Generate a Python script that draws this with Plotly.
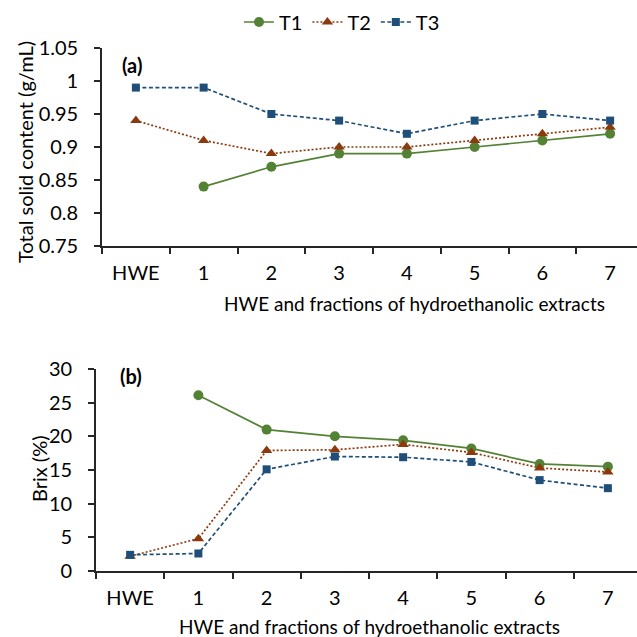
import plotly.graph_objects as go

categories = ["HWE", "1", "2", "3", "4", "5", "6", "7"]

tsc_t1 = [None, 0.84, 0.87, 0.89, 0.89, 0.90, 0.91, 0.92]
tsc_t2 = [0.94, 0.91, 0.89, 0.90, 0.90, 0.91, 0.92, 0.93]
tsc_t3 = [0.99, 0.99, 0.95, 0.94, 0.92, 0.94, 0.95, 0.94]

brix_t1 = [None, 26.1, 21.0, 20.0, 19.4, 18.2, 15.9, 15.5]
brix_t2 = [2.2, 4.8, 17.9, 18.0, 18.8, 17.6, 15.3, 14.7]
brix_t3 = [2.4, 2.6, 15.1, 17.0, 16.9, 16.2, 13.5, 12.3]

series_names = ["T1", "T2", "T3"]
tsc_ticks = [0.75, 0.8, 0.85, 0.9, 0.95, 1.0, 1.05]
tsc_ticktext = ["0.75", "0.8", "0.85", "0.9", "0.95", "1", "1.05"]
brix_ticks = [0, 5, 10, 15, 20, 25, 30]

W = H = 637
FONT = "Lato"
FS = 19
AX = "#262626"

colors = ["#548235", "#8B3A0E", "#1F4E79"]
dashes = ["solid", "2px,2px", "4px,2.5px"]
symbols = ["circle", "triangle-up", "square"]
msizes = [10, 10, 8]

fig = go.Figure()

for i, ys in enumerate([tsc_t1, tsc_t2, tsc_t3]):
    fig.add_trace(go.Scatter(
        x=categories, y=ys, name=series_names[i], mode="lines+markers",
        line=dict(color=colors[i], dash=dashes[i], width=1.7),
        marker=dict(symbol=symbols[i], size=msizes[i], color=colors[i]),
        xaxis="x", yaxis="y", showlegend=True, connectgaps=False))

for i, ys in enumerate([brix_t1, brix_t2, brix_t3]):
    fig.add_trace(go.Scatter(
        x=categories, y=ys, name=series_names[i], mode="lines+markers",
        line=dict(color=colors[i], dash=dashes[i], width=1.7),
        marker=dict(symbol=symbols[i], size=msizes[i], color=colors[i]),
        xaxis="x2", yaxis="y2", showlegend=False, connectgaps=False))

def px_x(p):
    return p / W

def px_y(p):
    return 1 - p / H

common_x = dict(type="category", categoryorder="array", categoryarray=categories,
                showline=True, linecolor=AX, linewidth=1.6, ticks="outside",
                tickson="boundaries", ticklen=6, tickcolor=AX, tickwidth=1.6,
                showgrid=False, zeroline=False, automargin=False,
                tickfont=dict(family=FONT, size=FS + 1, color="#000"),
                ticklabelstandoff=8)
common_y = dict(showline=True, linecolor=AX, linewidth=1.6, ticks="outside",
                ticklen=6, tickcolor=AX, tickwidth=1.6, showgrid=False,
                zeroline=False, automargin=False,
                tickfont=dict(family=FONT, size=FS + 1, color="#000"),
                ticklabelstandoff=12)

fig.update_layout(
    width=W, height=H, margin=dict(l=0, r=0, t=0, b=0),
    paper_bgcolor="white", plot_bgcolor="white",
    font=dict(family=FONT, size=FS, color="#000"),
    xaxis=dict(common_x, domain=[px_x(102), 1], anchor="y",
               range=[-0.5, 7.5 - 7 / 67.75]),
    yaxis=dict(common_y, domain=[px_y(246), px_y(48)], anchor="x",
               range=[0.75, 1.05], tickvals=tsc_ticks, ticktext=tsc_ticktext),
    xaxis2=dict(common_x, domain=[px_x(96), 1], anchor="y2",
                range=[-0.5, 7.5 - 5 / 68.25]),
    yaxis2=dict(common_y, domain=[px_y(571), px_y(369)], anchor="x2",
                range=[0, 30], tickvals=brix_ticks),
    legend=dict(orientation="h", x=px_x(342), y=px_y(22), xanchor="center",
                yanchor="middle", font=dict(family=FONT, size=FS + 1),
                itemwidth=30, bgcolor="rgba(0,0,0,0)"),
    annotations=[
        dict(text="<b>(a)</b>", x=px_x(120), y=px_y(65), xref="paper", yref="paper",
             xanchor="left", yanchor="middle", showarrow=False,
             font=dict(family=FONT, size=FS + 1)),
        dict(text="<b>(b)</b>", x=px_x(118), y=px_y(376), xref="paper", yref="paper",
             xanchor="left", yanchor="middle", showarrow=False,
             font=dict(family=FONT, size=FS + 1)),
        dict(text="HWE and fractions of hydroethanolic extracts", x=px_x(414),
             y=px_y(303), xref="paper", yref="paper", xanchor="center",
             yanchor="middle", showarrow=False, font=dict(family=FONT, size=FS)),
        dict(text="HWE and fractions of hydroethanolic extracts", x=px_x(369),
             y=px_y(626), xref="paper", yref="paper", xanchor="center",
             yanchor="middle", showarrow=False, font=dict(family=FONT, size=FS)),
        dict(text="Total solid content (g/mL)", x=px_x(25), y=px_y(152),
             xref="paper", yref="paper", xanchor="center", yanchor="middle",
             textangle=-90, showarrow=False, font=dict(family=FONT, size=FS + 1)),
        dict(text="Brix (%)", x=px_x(39), y=px_y(469),
             xref="paper", yref="paper", xanchor="center", yanchor="middle",
             textangle=-90, showarrow=False, font=dict(family=FONT, size=FS + 1)),
    ],
)

fig.write_html("out.html")
